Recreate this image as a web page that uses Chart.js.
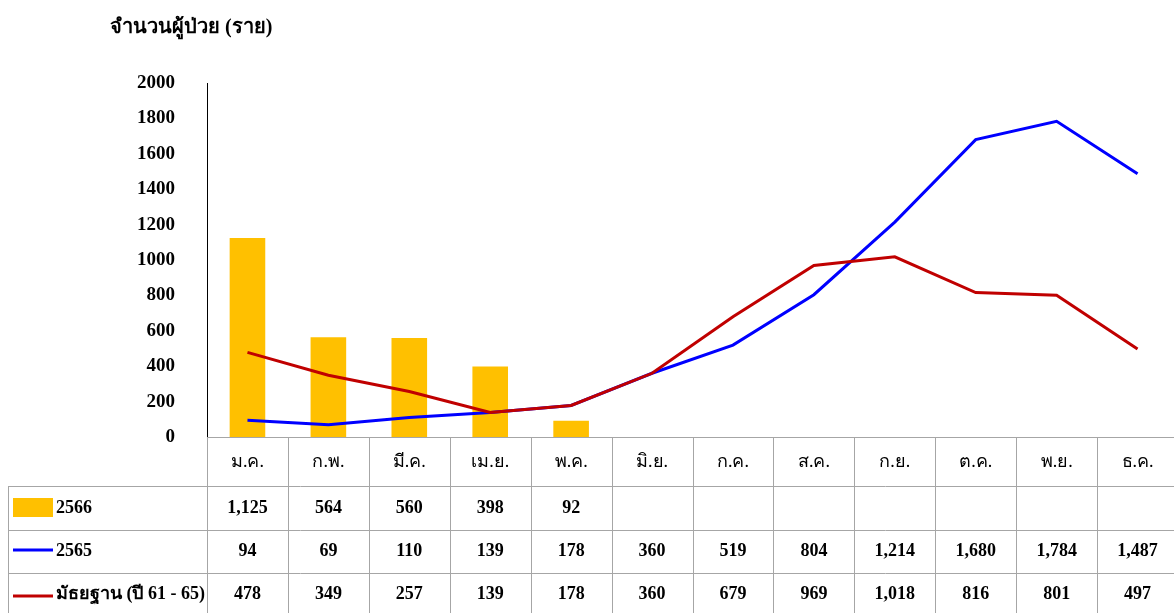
<!DOCTYPE html>
<html>
<head>
<meta charset="utf-8">
<script src="https://cdn.jsdelivr.net/npm/chart.js@4.4.1/dist/chart.umd.min.js"></script>
<style>
  html, body { margin: 0; padding: 0; background: #fff; overflow: hidden; width: 1174px; height: 613px; }
  #wrap { position: absolute; left: 0; top: 0; width: 1178px; height: 613px; }
  #title { position: absolute; left: 110px; top: 10px; font: bold 20px "Liberation Serif", serif; color: #000; white-space: nowrap; }
</style>
</head>
<body>
<div id="wrap"><canvas id="c" width="1178" height="613"></canvas></div>
<div id="title">จำนวนผู้ป่วย (ราย)</div>
<script>
const months = ['ม.ค.','ก.พ.','มี.ค.','เม.ย.','พ.ค.','มิ.ย.','ก.ค.','ส.ค.','ก.ย.','ต.ค.','พ.ย.','ธ.ค.'];
const series2566 = [1125, 564, 560, 398, 92, null, null, null, null, null, null, null];
const series2565 = [94, 69, 110, 139, 178, 360, 519, 804, 1214, 1680, 1784, 1487];
const seriesMedian = [478, 349, 257, 139, 178, 360, 679, 969, 1018, 816, 801, 497];
const seriesNames = ['2566', '2565', 'มัธยฐาน (ปี 61 - 65)'];
const yTicks = [0, 200, 400, 600, 800, 1000, 1200, 1400, 1600, 1800, 2000];

const COL_BAR = '#FFC000', COL_BLUE = '#0000FF', COL_RED = '#C00000', GRID = '#A6A6A6';
const SERIF = '"Liberation Serif", serif';

const tablePlugin = {
  id: 'dataTable',
  afterDraw(chart) {
    const ctx = chart.ctx;
    const x = chart.scales.x;
    const H = chart.height;
    const top = chart.chartArea.bottom;           // 437
    const rows = [486, 530, 573];
    const rowCenters = [508, 551, 594];
    const headerCenter = 462;
    const legLeft = 8;
    const n = months.length;
    const cw = (x.right - x.left) / n;
    ctx.save();
    ctx.strokeStyle = GRID;
    ctx.lineWidth = 1;
    for (let i = 0; i <= n; i++) {
      const px = Math.round(x.left + i * cw) + 0.5;
      ctx.beginPath(); ctx.moveTo(px, top); ctx.lineTo(px, H); ctx.stroke();
    }
    ctx.beginPath(); ctx.moveTo(legLeft + 0.5, rows[0]); ctx.lineTo(legLeft + 0.5, H); ctx.stroke();
    rows.forEach(r => {
      ctx.beginPath(); ctx.moveTo(legLeft, r + 0.5); ctx.lineTo(chart.width, r + 0.5); ctx.stroke();
    });
    // legend keys
    ctx.fillStyle = COL_BAR;
    ctx.fillRect(13, rowCenters[0] - 10, 40, 19);
    ctx.lineWidth = 3;
    ctx.strokeStyle = COL_BLUE;
    ctx.beginPath(); ctx.moveTo(13, rowCenters[1] - 1); ctx.lineTo(53, rowCenters[1] - 1); ctx.stroke();
    ctx.strokeStyle = COL_RED;
    ctx.beginPath(); ctx.moveTo(13, rowCenters[2] + 2); ctx.lineTo(53, rowCenters[2] + 2); ctx.stroke();
    ctx.fillStyle = '#000';
    ctx.textBaseline = 'middle';
    // month labels (category axis labels)
    ctx.textAlign = 'center';
    ctx.font = '18px ' + SERIF;
    months.forEach((m, i) => ctx.fillText(x.getLabelForValue(i), x.getPixelForValue(i), headerCenter));
    // legend labels
    ctx.font = 'bold 18px ' + SERIF;
    ctx.textAlign = 'left';
    seriesNames.forEach((s, i) => ctx.fillText(s, 56, rowCenters[i]));
    // values
    ctx.textAlign = 'center';
    [series2566, series2565, seriesMedian].forEach((arr, r) => {
      arr.forEach((v, i) => {
        if (v === null || v === undefined) return;
        ctx.fillText(v.toLocaleString('en-US'), x.getPixelForValue(i), rowCenters[r]);
      });
    });
    ctx.restore();
  }
};

new Chart(document.getElementById('c'), {
  type: 'bar',
  data: {
    labels: months,
    datasets: [
      { type: 'bar', label: seriesNames[0], data: series2566, backgroundColor: COL_BAR,
        barPercentage: 0.44, categoryPercentage: 1, order: 3 },
      { type: 'line', label: seriesNames[1], data: series2565, borderColor: COL_BLUE,
        borderWidth: 3, pointRadius: 0, tension: 0, fill: false, order: 2 },
      { type: 'line', label: seriesNames[2], data: seriesMedian, borderColor: COL_RED,
        borderWidth: 3, pointRadius: 0, tension: 0, fill: false, order: 1 }
    ]
  },
  options: {
    responsive: false,
    animation: false,
    layout: { padding: { top: 83, bottom: 176, left: 0, right: 0 } },
    plugins: { legend: { display: false }, tooltip: { enabled: false }, title: { display: false } },
    scales: {
      x: {
        offset: true,
        grid: { display: false, drawTicks: false },
        border: { display: true, color: GRID, width: 1 },
        ticks: { display: false },
        afterFit(scale) { scale.height = 0; }
      },
      y: {
        min: 0, max: 2000,
        afterBuildTicks(scale) { scale.ticks = yTicks.map(v => ({ value: v })); },
        grid: { display: false, drawTicks: false },
        border: { display: true, color: '#000', width: 1 },
        ticks: { color: '#000', font: { family: SERIF, size: 19, weight: 'bold' }, padding: 32,
                 callback: v => String(v) },
        afterFit(scale) { scale.width = 207; }
      }
    }
  },
  plugins: [tablePlugin]
});
</script>
</body>
</html>
